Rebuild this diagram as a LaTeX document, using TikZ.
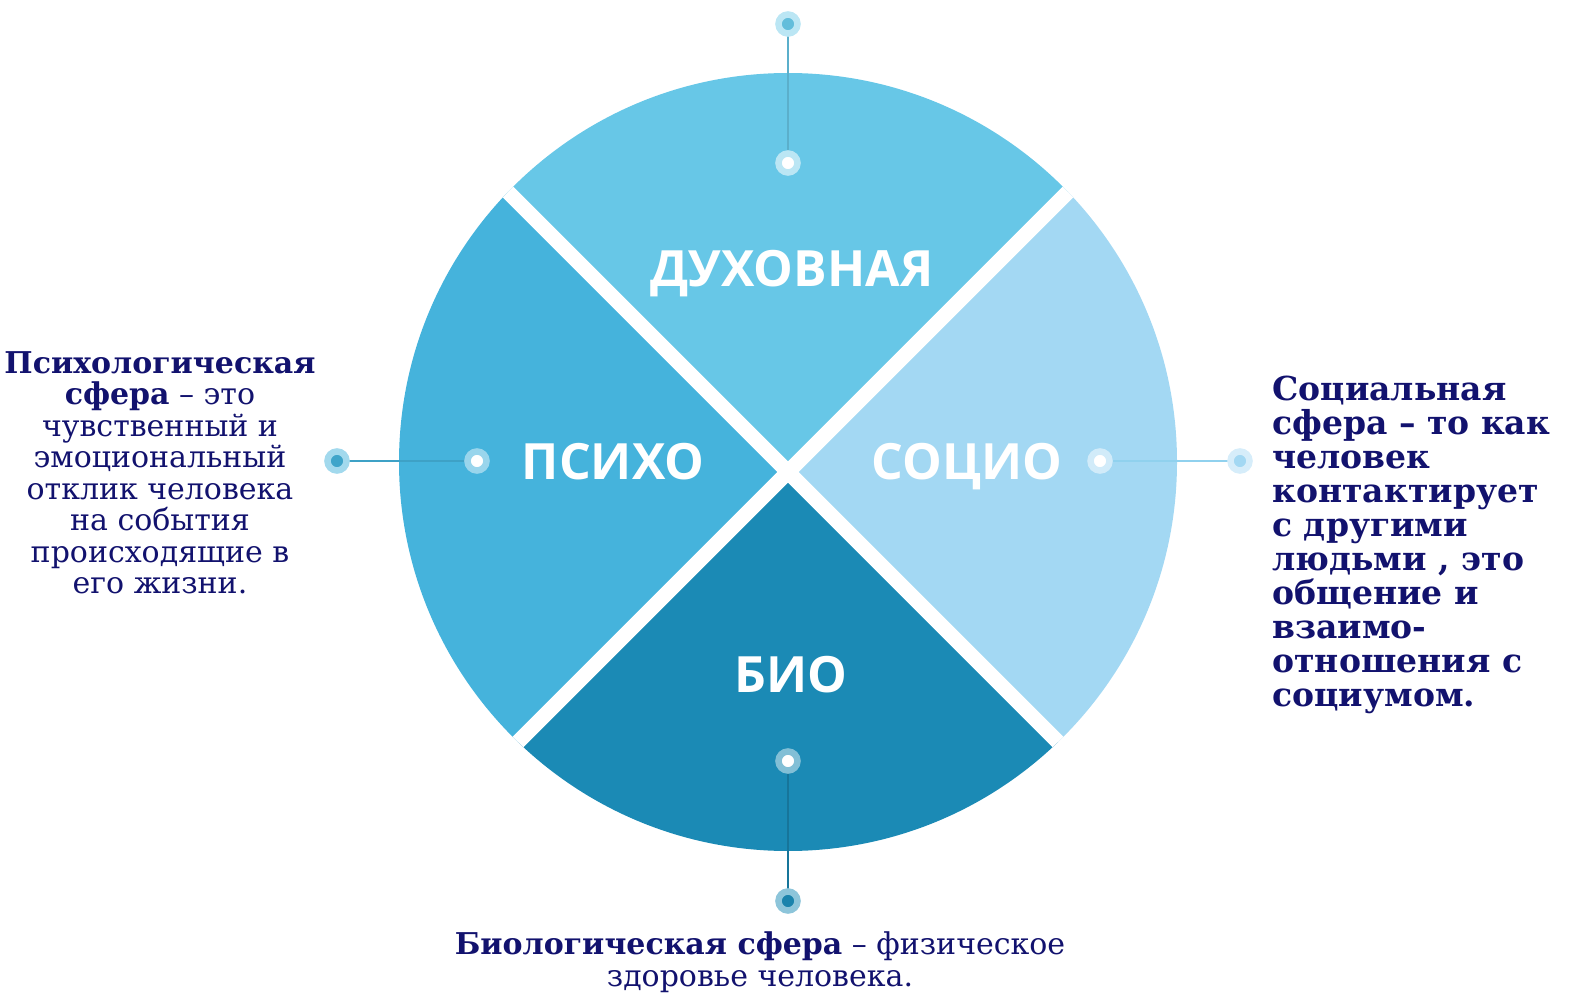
\documentclass[tikz,border=0pt]{standalone}
\usepackage{fontspec}
\setmainfont{DejaVu Serif}
\newfontfamily\headfont{Open Sans}
\definecolor{topc}{HTML}{67C7E7}
\definecolor{leftc}{HTML}{45B3DC}
\definecolor{rightc}{HTML}{A3D8F3}
\definecolor{botc}{HTML}{1B8AB5}
\definecolor{navy}{HTML}{12126E}
\pgfdeclarelayer{bg}
\pgfdeclarelayer{mid}
\pgfsetlayers{bg,mid,main}
\begin{document}
\begin{tikzpicture}[x=0.5pt,y=-0.5pt,
  dot/.style={circle, minimum size=9.5pt, line width=3.25pt, inner sep=0pt},
  head/.style={text=white, anchor=base, inner sep=0pt, font=\headfont\bfseries\fontsize{25}{30}\selectfont},
  desc/.style={text=navy, inner sep=0pt},
  link/.style={line width=1pt}]
\useasboundingbox (0,0) rectangle (1584,1005);
\coordinate (X) at (788,472);
\begin{pgfonlayer}{bg}
\begin{scope}
\clip (788,462) circle (194.5pt);
\fill[topc] (X) -- ++(-600,-600) -- ++(1200,0) -- cycle;
\fill[leftc] (X) -- ++(-600,-600) -- ++(0,1200) -- cycle;
\fill[rightc] (X) -- ++(600,-600) -- ++(0,1200) -- cycle;
\fill[botc] (X) -- ++(-600,600) -- ++(1200,0) -- cycle;
\draw[white, line width=7.5pt] (X) ++(-600,-600) -- ++(1200,1200);
\draw[white, line width=7.5pt] (X) ++(600,-600) -- ++(-1200,1200);
\end{scope}
\end{pgfonlayer}
% headings
\node[head] (hdux) at (792,287) {ДУХОВНАЯ};
\node[head] (hpsi) at (613,480) {ПСИХО};
\node[head] (hsoc) at (967,480) {СОЦИО};
\node[head] (hbio) at (791,692) {БИО};
% dots
\node[dot, draw=topc!45!white, fill=topc!95!black] (tout) at (788,24) {};
\node[dot, draw=white!55!topc, fill=white] (tin) at (788,163) {};
\node[dot, draw=leftc!50!white, fill=leftc!92!black] (lout) at (337,461) {};
\node[dot, draw=white!45!leftc, fill=white] (lin) at (477,461) {};
\node[dot, draw=white!50!rightc, fill=white] (rin) at (1100,461) {};
\node[dot, draw=rightc!45!white, fill=rightc] (rout) at (1240,461) {};
\node[dot, draw=white!45!botc, fill=white] (bin) at (788,761) {};
\node[dot, draw=botc!50!white, fill=botc!95!black] (bout) at (788,901) {};
\begin{pgfonlayer}{mid}
\draw[link, draw=topc!88!black] (tout.center) -- (tin.center);
\draw[link, draw=leftc!90!black] (lout.center) -- (lin.center);
\draw[link, draw=rightc!80!leftc] (rin.center) -- (rout.center);
\draw[link, draw=botc!85!black] (bin.center) -- (bout.center);
\end{pgfonlayer}
% descriptions
\node[desc, anchor=north, align=center, font=\fontsize{15}{15.75}\selectfont] (psi) at (160,351)
 {\textbf{Психологическая}\\ \textbf{сфера} – это\\ чувственный и\\ эмоциональный\\ отклик человека\\ на события\\ происходящие в\\ его жизни.};
\node[desc, anchor=north west, align=left, font=\bfseries\fontsize{16.5}{17}\selectfont] (soc) at (1272,376)
 {Социальная\\ сфера – то как\\ человек\\ контактирует\\ с другими\\ людьми , это\\ общение и\\ взаимо-\\ отношения с\\ социумом.};
\node[desc, anchor=north, align=center, font=\fontsize{15}{16}\selectfont] (bio) at (760,931)
 {\textbf{Биологическая сфера} – физическое\\ здоровье человека.};
\end{tikzpicture}
\end{document}
